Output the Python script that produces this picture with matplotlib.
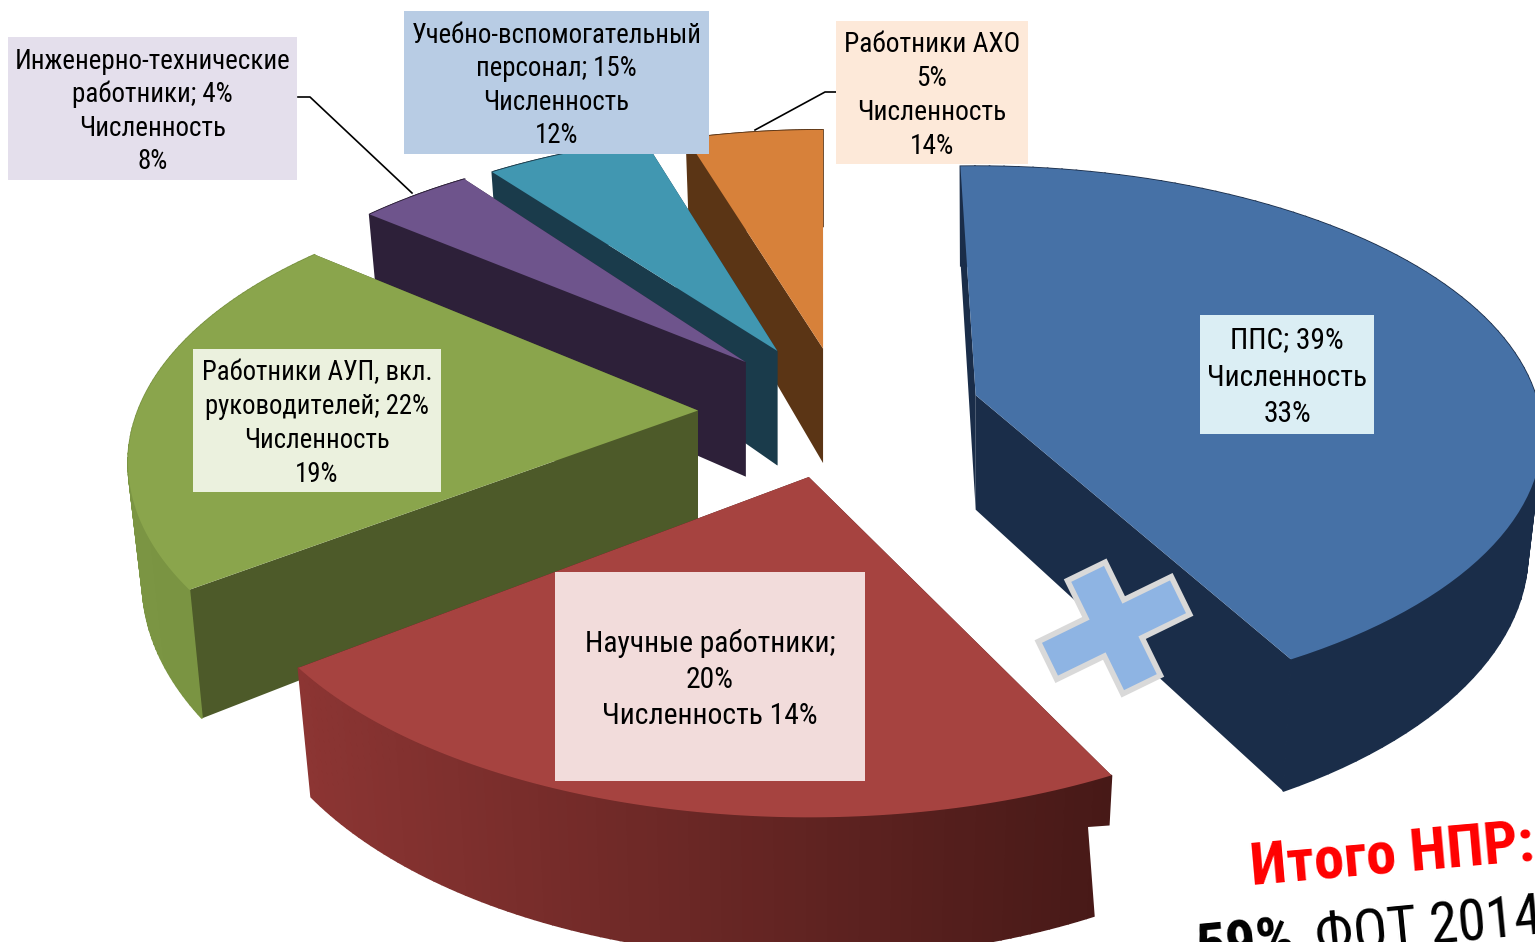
import numpy as np
import matplotlib
matplotlib.use('Agg')
import matplotlib.pyplot as plt
from matplotlib import font_manager
from matplotlib.patches import Polygon, Rectangle
from matplotlib.colors import to_rgb

# visible slices (the drawing does not follow the labels)
slice_names = ['ППС', 'Научные', 'АУП', 'ИТР', 'УВП', 'АХО']
slice_start = [-1.8, 153.8, 234.0, 309.0, 322.3, 342.5]
slice_shares = [42.36, 21.83, 21.11, 3.97, 5.75, 4.86]
explode = [0.245, 0.242, 0.26, 0.26, 0.257, 0.24]
nudge_x = [0, -4, 0, 3, 0, 0]
radius = [1.0, 1.02, 1.0, 0.965, 0.955, 0.955]
persp = [0.15, 0.186, 0.186, 0.186, 0.186, 0.186]

top_colors = ['#4671A6', '#A64340', '#8AA54C', '#6E548C', '#4197B1', '#D7813A']
side_colors = ['#1A2D49', '#4A1C1A', '#4D5A29', '#2D2039', '#1A3B4B', '#5B3515']
wall_left = ['#1A2D49', '#8C3533', '#7B9543', '#2D2039', '#1A3B4B', '#5B3515']
wall_right = ['#1A2D49', '#471917', '#77913F', '#2D2039', '#1A3B4B', '#5B3515']

# labels as printed on the picture
label_texts = [
    'ППС; 39%\nЧисленность\n33%',
    'Научные работники;\n20%\nЧисленность 14%',
    'Работники АУП, вкл.\nруководителей; 22%\nЧисленность\n19%',
    'Инженерно-технические\nработники; 4%\nЧисленность\n8%',
    'Учебно-вспомогательный\nперсонал; 15%\nЧисленность\n12%',
    'Работники АХО\n5%\nЧисленность\n14%',
]
label_boxes = [(1200, 315, 1374, 434), (555, 572, 865, 781), (193, 349, 441, 492),
               (8, 37, 297, 180), (404, 11, 709, 154), (836, 21, 1028, 164)]
label_colors = ['#DBEEF4', '#F2DCDB', '#EBF1DE', '#E4DFEC', '#B8CCE4', '#FDE9D9']
label_widths = [160, 250, 230, 275, 290, 176]
label_pitch = [37, 36.5, 33.7, 33.5, 33.5, 33.7]

CX, CY = 843.5, 413.0
RX, BACK_R = 560.0, 229.0
DEPTH = 114.5
SHRINK = 0.975

installed = {f.name for f in font_manager.fontManager.ttflist}
FONT = next(n for n in ['Liberation Sans Narrow', 'Roboto Condensed', 'Open Sans Condensed', 'Roboto', 'Liberation Sans']
            if n in installed)


def rim(theta, shift, i):
    # perspective projection of the rim of the pie, theta clockwise from the top
    t = np.radians(theta)
    w = 1 / (1 + persp[i] * np.cos(t))
    ry = BACK_R * (1 + persp[i])
    return (shift[0] + radius[i] * RX * np.sin(t) * w,
            shift[1] - radius[i] * ry * np.cos(t) * w, w)


def low(x, y, w, shift):
    return shift[0] + (x - shift[0]) * SHRINK, y + DEPTH * w


fig = plt.figure(figsize=(15.35, 9.42), dpi=100)
ax = fig.add_axes([0, 0, 1, 1])
ax.set_xlim(0, 1535)
ax.set_ylim(942, 0)
ax.axis('off')


def fit_size(s, target, family, weight='normal'):
    # font size that makes the string as wide as in the picture
    t = ax.text(0, 0, s, fontsize=20, family=family, fontweight=weight)
    width = t.get_window_extent(fig.canvas.get_renderer()).width
    t.remove()
    return 20 * target / width


# back slices first, the front ones paint over their walls
for i in [5, 4, 3, 2, 1, 0]:
    start = slice_start[i]
    end = start + slice_shares[i] * 3.6
    mid = np.radians((start + end) / 2)
    ry0 = BACK_R * 1.186
    shift = (CX + nudge_x[i] + explode[i] * RX * np.sin(mid), CY - explode[i] * ry0 * np.cos(mid))
    low_apex = (shift[0], shift[1] + DEPTH)

    for ang in (start, end):
        x, y, w = rim(ang, shift, i)
        bx, by = low(x, y, w, shift)
        ax.add_patch(Polygon([shift, (x, y), (bx, by), low_apex], fc=side_colors[i], ec='none', zorder=2 + (5 - i) * 3))

    thetas = np.linspace(start, end, 90)
    c0, c1 = np.array(to_rgb(wall_left[i])), np.array(to_rgb(wall_right[i]))
    xs, ys, ws = rim(thetas, shift, i)
    bxs, bys = low(xs, ys, ws, shift)
    xspan = xs.max() - xs.min()
    for k in range(len(thetas) - 1):
        f = (xs[k] - xs.min()) / xspan
        col = c0 + (c1 - c0) * f
        ax.add_patch(Polygon([(xs[k], ys[k]), (xs[k + 1], ys[k + 1]), (bxs[k + 1], bys[k + 1]), (bxs[k], bys[k])],
                             fc=col, ec=col, lw=1.2, zorder=3 + (5 - i) * 3))

    pts = [shift] + list(zip(xs, ys))
    ax.add_patch(Polygon(pts, fc=top_colors[i], ec='none', zorder=4 + (5 - i) * 3))

# white box of the caption cuts the red wall, it is tilted a little
ax.add_patch(Polygon([(1088, 827), (1400, 805), (1410, 960), (1098, 960)], fc='white', ec='none', zorder=30))

# plus sign between the groups
arm_x, arm_y, half = 74, 63, 21
cross = np.array([(-half, -arm_y), (half, -arm_y), (half, -half), (arm_x, -half), (arm_x, half), (half, half),
                  (half, arm_y), (-half, arm_y), (-half, half), (-arm_x, half), (-arm_x, -half), (-half, -half)], float)
rot = np.radians(-26)
cross = cross @ np.array([[np.cos(rot), np.sin(rot)], [-np.sin(rot), np.cos(rot)]]) + (1114, 628)
ax.add_patch(Polygon(cross, fc='#8EB4E3', ec='#D9D9D9', lw=4, zorder=31))

# leader lines
ax.plot([298, 310, 412], [97, 97, 193], color='black', lw=1.2, zorder=32)
ax.plot([755, 825, 836], [130, 92, 92], color='black', lw=1.2, zorder=32)

for txt, box, col, width, pitch in zip(label_texts, label_boxes, label_colors, label_widths, label_pitch):
    ax.add_patch(Rectangle((box[0], box[1]), box[2] - box[0], box[3] - box[1], fc=col, ec='none', zorder=33))
    lines = txt.split('\n')
    fs = fit_size(max(lines, key=len), width, FONT)
    for n, line in enumerate(lines):
        y = (box[1] + box[3]) / 2 + 3 + (n - (len(lines) - 1) / 2) * pitch
        ax.text((box[0] + box[2]) / 2, y, line, ha='center', va='center', fontsize=fs, family=FONT,
                color='black', zorder=34)

head_fs = fit_size('Итого НПР:', 285, FONT, 'bold')
ax.text(1252, 885, 'Итого НПР:', color='#FF0000', fontsize=head_fs, fontweight='bold', family=FONT,
        rotation=5, rotation_mode='anchor', ha='left', va='baseline', zorder=35)
sub_fs = fit_size('ФОТ 2014', 228, FONT)
pct_fs = fit_size('59%', 100, FONT, 'bold')
ax.text(1197, 967, '59%', color='black', fontsize=pct_fs, fontweight='bold', family=FONT,
        rotation=5.5, rotation_mode='anchor', ha='left', va='baseline', zorder=35)
ax.text(1317, 955, 'ФОТ 2014', color='black', fontsize=sub_fs, family=FONT,
        rotation=5.5, rotation_mode='anchor', ha='left', va='baseline', zorder=35)

fig.savefig('out.png', dpi=100)
